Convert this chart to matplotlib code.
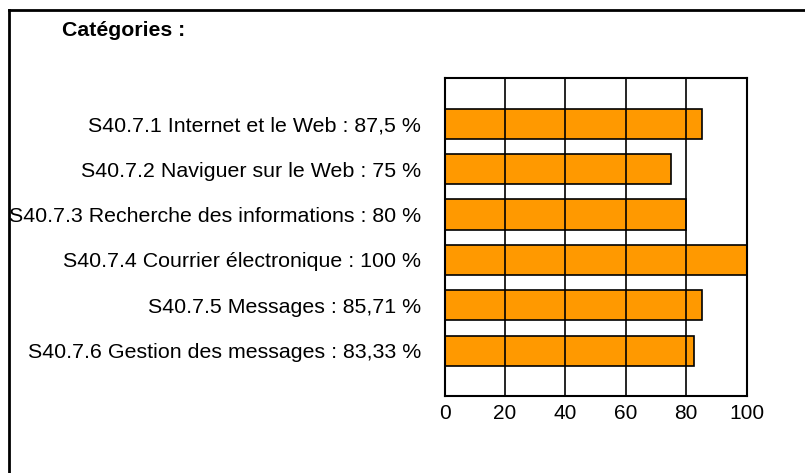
import matplotlib
matplotlib.use("Agg")
import matplotlib.pyplot as plt
from matplotlib.lines import Line2D

plt.rcParams['font.family'] = ['Liberation Sans', 'DejaVu Sans']

categories = [
    "S40.7.1 Internet et le Web : 87,5 %",
    "S40.7.2 Naviguer sur le Web : 75 %",
    "S40.7.3 Recherche des informations : 80 %",
    "S40.7.4 Courrier électronique : 100 %",
    "S40.7.5 Messages : 85,71 %",
    "S40.7.6 Gestion des messages : 83,33 %",
]
values = [85.2, 75, 80, 100, 85.2, 82.7]
xticks = [0, 20, 40, 60, 80, 100]
title = "Catégories :"

W, H = 805, 473
fig = plt.figure(figsize=(W / 100, H / 100), dpi=100)
fig.patch.set_facecolor("white")

ax = fig.add_axes([444.5 / W, 1 - 396 / H, (746.5 - 444.5) / W, (396 - 78.3) / H])
pos = list(range(1, len(categories) + 1))
ax.barh(pos, values, height=0.665, color="#FF9900", edgecolor="black", linewidth=1.2, zorder=2)
ax.set_xlim(0, 100)
ax.set_ylim(7, 0)
ax.set_xticks(xticks)
ax.set_xticklabels([str(t) for t in xticks], fontsize=15)
ax.set_yticks(pos)
ax.set_yticklabels(categories, fontsize=15.4)
ax.tick_params(axis="both", length=0)
ax.tick_params(axis="y", pad=17)
ax.tick_params(axis="x", pad=5.5)
for t in xticks[1:-1]:
    ax.axvline(t, color="black", linewidth=1.2, zorder=3)
for s in ax.spines.values():
    s.set_linewidth(1.5)
    s.set_color("black")
    s.set_zorder(4)

fig.text(62 / W, 1 - 30.5 / H, title, fontsize=15.3, fontweight="bold", va="center", ha="left")

# outer frame (top and left visible)
fig.add_artist(Line2D([8.5 / W, 1.0], [1 - 10.5 / H, 1 - 10.5 / H], color="black", linewidth=2))
fig.add_artist(Line2D([8.5 / W, 8.5 / W], [0, 1 - 10.5 / H], color="black", linewidth=2))

fig.savefig("out.png", dpi=100)
